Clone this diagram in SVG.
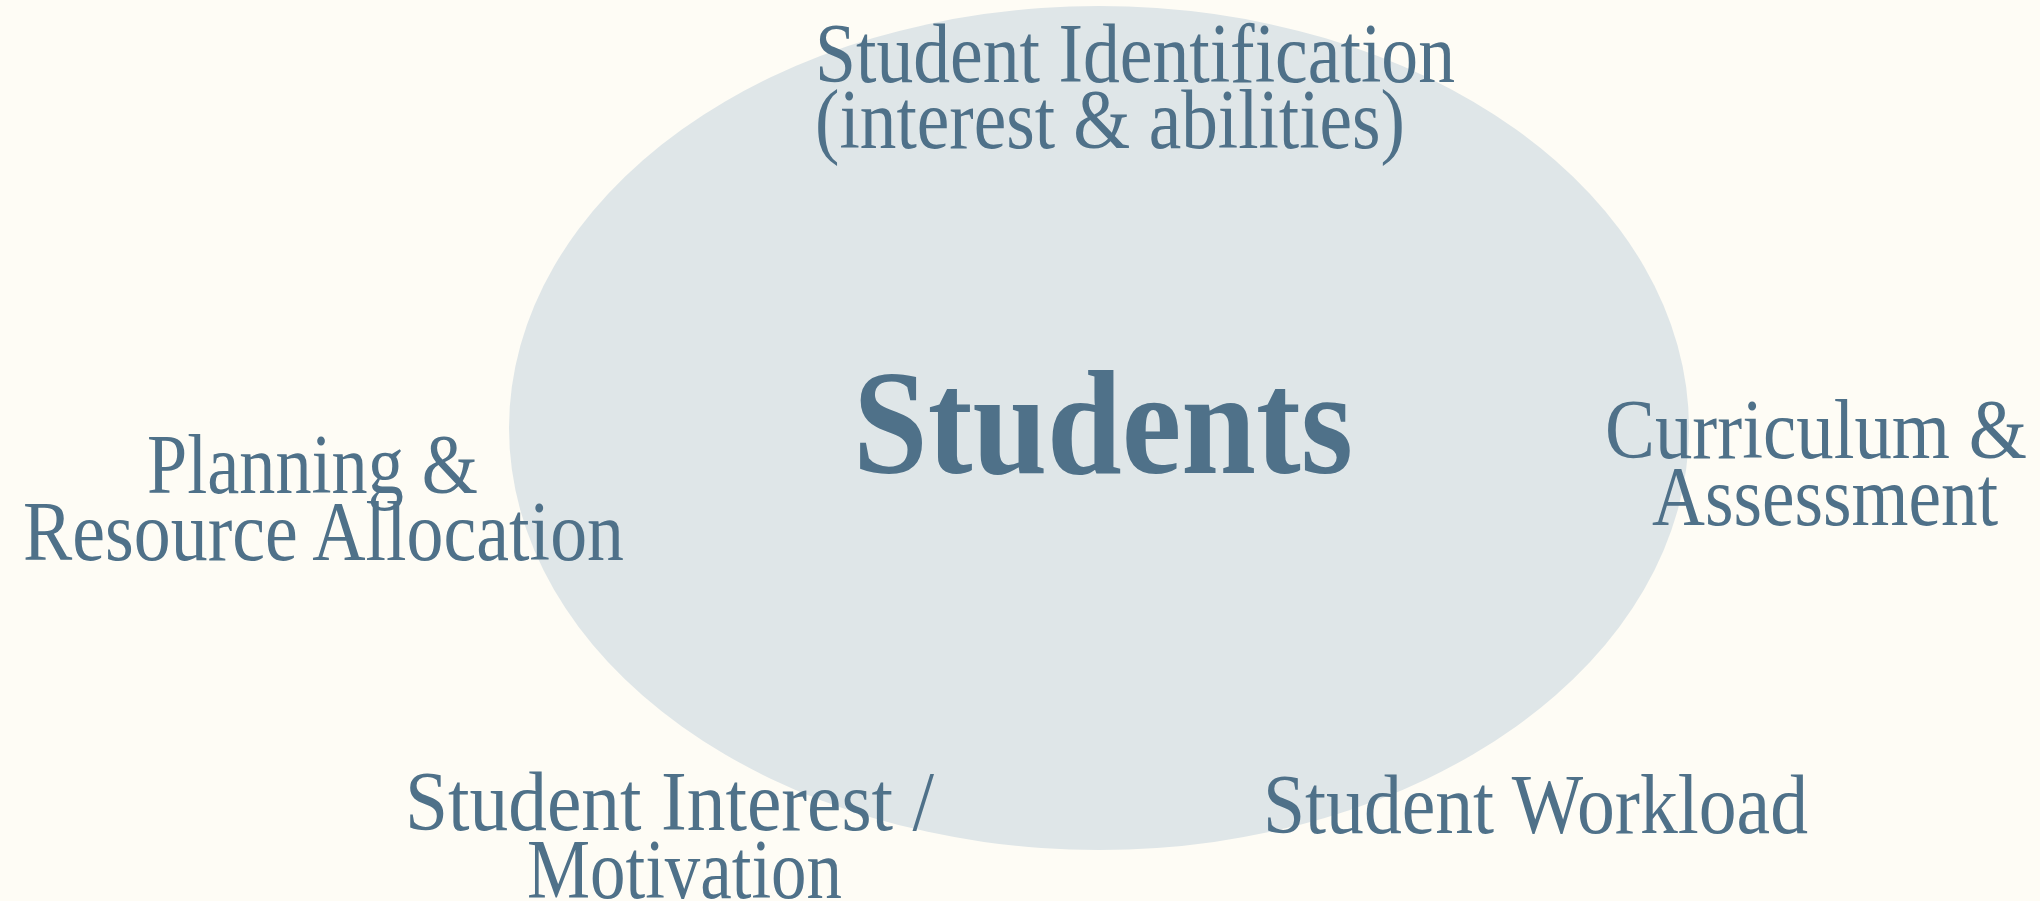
<svg xmlns="http://www.w3.org/2000/svg" width="2040" height="901" viewBox="0 0 2040 901">
<style>
.bg{fill:#fefcf5}
.hub{fill:#dfe6e8}
.lbl{font-family:"Liberation Serif","DejaVu Serif",serif;font-size:84px;fill:#4f7189}
.big{font-family:"Liberation Serif","DejaVu Serif",serif;font-size:148px;font-weight:bold;fill:#4f7189}
</style>
<rect class="bg" x="0" y="0" width="2040" height="901"/>
<g id="connectors"/>
<g id="students">
<ellipse class="hub" cx="1099" cy="428" rx="590" ry="422"/>
<text class="big" x="853" y="473" textLength="500" lengthAdjust="spacingAndGlyphs">Students</text>
</g>
<g id="identification">
<text class="lbl" x="815" y="82" textLength="640" lengthAdjust="spacingAndGlyphs">Student Identification</text>
<text class="lbl" x="815" y="148" textLength="590" lengthAdjust="spacingAndGlyphs">(interest &amp; abilities)</text>
</g>
<g id="curriculum">
<text class="lbl" x="1605" y="458" textLength="422" lengthAdjust="spacingAndGlyphs">Curriculum &amp;</text>
<text class="lbl" x="1652" y="525" textLength="346" lengthAdjust="spacingAndGlyphs">Assessment</text>
</g>
<g id="workload">
<text class="lbl" x="1263" y="833" textLength="545" lengthAdjust="spacingAndGlyphs">Student Workload</text>
</g>
<g id="motivation">
<text class="lbl" x="405" y="830" textLength="529" lengthAdjust="spacingAndGlyphs">Student Interest /</text>
<text class="lbl" x="527" y="898" textLength="315" lengthAdjust="spacingAndGlyphs">Motivation</text>
</g>
<g id="planning">
<text class="lbl" x="147" y="493" textLength="331" lengthAdjust="spacingAndGlyphs">Planning &amp;</text>
<text class="lbl" x="23" y="560" textLength="601" lengthAdjust="spacingAndGlyphs">Resource Allocation</text>
</g>
</svg>
